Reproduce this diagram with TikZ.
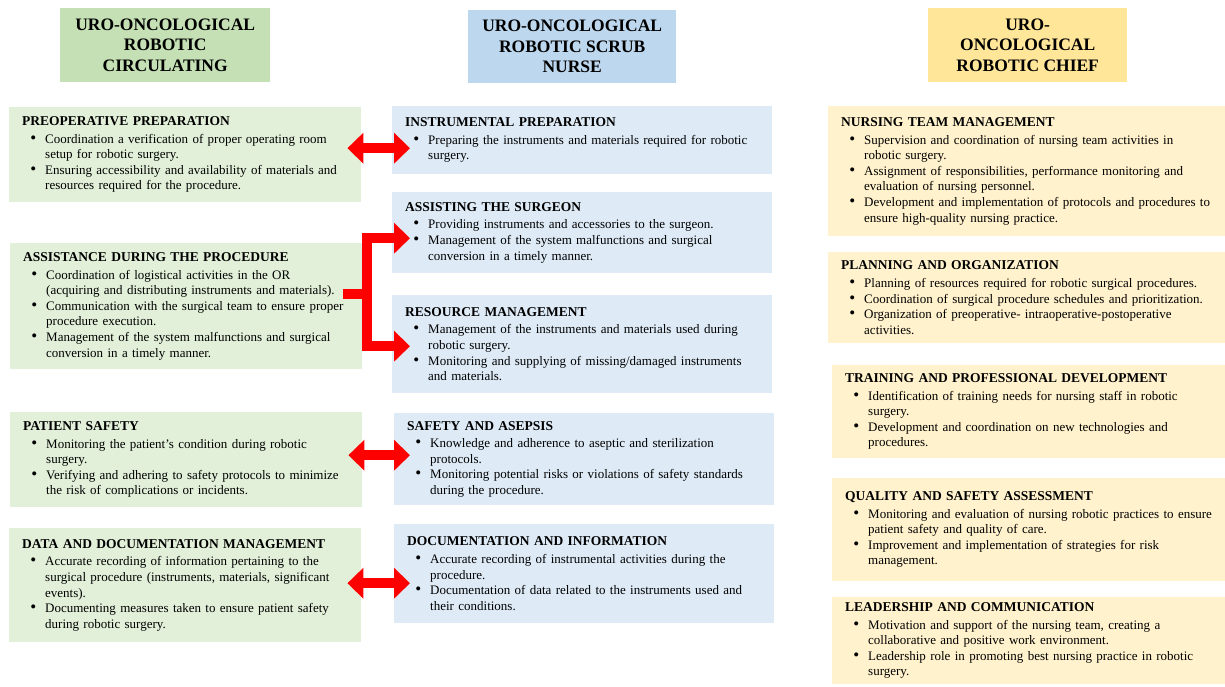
\documentclass[tikz,border=0pt]{standalone}
\usepackage{fontspec}
\setmainfont{Liberation Serif}
\usepackage{enumitem}
\usetikzlibrary{arrows.meta}
\definecolor{titlegreen}{HTML}{C5E0B4}
\definecolor{titleblue}{HTML}{BDD7EE}
\definecolor{titleyellow}{HTML}{FFE699}
\definecolor{lightgreen}{HTML}{E2F0D9}
\definecolor{lightblue}{HTML}{DEEBF7}
\definecolor{lightyellow}{HTML}{FFF2CC}
\setlist[itemize]{nosep, topsep=2pt, leftmargin=23pt, rightmargin=-14pt, labelsep=9pt, label=\scalebox{1.3}{\textbullet}}

\begin{document}
\begin{tikzpicture}[x=1pt, y=-1pt, font=\fontsize{13}{15.6}\selectfont,
        titlebox/.style={anchor=north west, inner sep=0pt, align=center, minimum width=#1, minimum height=74pt, font=\bfseries\fontsize{17.5}{20.5}\selectfont},
        rolebox/.style={anchor=north west, inner xsep=13pt, inner ysep=4pt, align=left},
        greenbox/.style={rolebox, fill=lightgreen, text width=326pt},
        bluebox/.style={rolebox, fill=lightblue, text width=354pt},
        yellowbox/.style={rolebox, fill=lightyellow, text width=#1},
        link/.style={draw=red, line width=10pt, line join=miter, >={Triangle[length=16pt,width=30pt]}}]
    \useasboundingbox (0,0) rectangle (1225,686);

    % column titles
    \node[titlebox=210pt, fill=titlegreen] (circ) at (60,8) {URO-ONCOLOGICAL\\ROBOTIC\\CIRCULATING};
    \node[titlebox=208pt, fill=titleblue, minimum height=73pt] (scrub) at (468,10) {URO-ONCOLOGICAL\\ROBOTIC SCRUB\\NURSE};
    \node[titlebox=199pt, fill=titleyellow] (chief) at (928,8) {URO-\\ONCOLOGICAL\\ROBOTIC CHIEF};

    % circulating nurse
    \node[greenbox, minimum height=95pt] (pre) at (9,107) {\textbf{\fontsize{13.5}{15.6}\selectfont PREOPERATIVE PREPARATION}
        \begin{itemize}
            \item Coordination a verification of proper operating room\newline setup for robotic surgery.
            \item Ensuring accessibility and availability of materials and\newline resources required for the procedure.
        \end{itemize}};
    \node[greenbox, minimum height=126pt] (assist) at (10,243) {\textbf{\fontsize{13.5}{15.6}\selectfont ASSISTANCE DURING THE PROCEDURE}
        \begin{itemize}
            \item Coordination of logistical activities in the OR\newline (acquiring and distributing instruments and materials).
            \item Communication with the surgical team to ensure proper\newline procedure execution.
            \item Management of the system malfunctions and surgical\newline conversion in a timely manner.
        \end{itemize}};
    \node[greenbox, minimum height=95pt] (psafe) at (10,412) {\textbf{\fontsize{13.5}{15.6}\selectfont PATIENT SAFETY}
        \begin{itemize}
            \item Monitoring the patient’s condition during robotic\newline surgery.
            \item Verifying and adhering to safety protocols to minimize\newline the risk of complications or incidents.
        \end{itemize}};
    \node[greenbox, minimum height=114pt] (data) at (9,528) {\textbf{\fontsize{13.5}{15.6}\selectfont DATA AND DOCUMENTATION MANAGEMENT}
        \begin{itemize}
            \item Accurate recording of information pertaining to the\newline surgical procedure (instruments, materials, significant\newline events).
            \item Documenting measures taken to ensure patient safety\newline during robotic surgery.
        \end{itemize}};

    % scrub nurse
    \node[bluebox, minimum height=68pt] (instr) at (392,106) {\textbf{\fontsize{13.5}{15.6}\selectfont INSTRUMENTAL PREPARATION}
        \begin{itemize}
            \item Preparing the instruments and materials required for robotic\newline surgery.
        \end{itemize}};
    \node[bluebox, minimum height=81pt] (surgeon) at (392,192) {\textbf{\fontsize{13.5}{15.6}\selectfont ASSISTING THE SURGEON}
        \begin{itemize}
            \item Providing instruments and accessories to the surgeon.
            \item Management of the system malfunctions and surgical\newline conversion in a timely manner.
        \end{itemize}};
    \node[bluebox, minimum height=98pt] (resource) at (392,295) {\textbf{\fontsize{13.5}{15.6}\selectfont RESOURCE MANAGEMENT}
        \begin{itemize}
            \item Management of the instruments and materials used during\newline robotic surgery.
            \item Monitoring and supplying of missing/damaged instruments\newline and materials.
        \end{itemize}};
    \node[bluebox, minimum height=92pt] (asepsis) at (394,413) {\textbf{\fontsize{13.5}{15.6}\selectfont SAFETY AND ASEPSIS}
        \begin{itemize}
            \item Knowledge and adherence to aseptic and sterilization\newline protocols.
            \item Monitoring potential risks or violations of safety standards\newline during the procedure.
        \end{itemize}};
    \node[bluebox, minimum height=99pt] (docu) at (394,524) {\textbf{\fontsize{13.5}{15.6}\selectfont DOCUMENTATION AND INFORMATION}
        \begin{itemize}
            \item Accurate recording of instrumental activities during the\newline procedure.
            \item Documentation of data related to the instruments used and\newline their conditions.
        \end{itemize}};

    % chief nurse
    \node[yellowbox=371pt, minimum height=130pt] (nursing) at (828,106) {\textbf{\fontsize{13.5}{15.6}\selectfont NURSING TEAM MANAGEMENT}
        \begin{itemize}
            \item Supervision and coordination of nursing team activities in\newline robotic surgery.
            \item Assignment of responsibilities, performance monitoring and\newline evaluation of nursing personnel.
            \item Development and implementation of protocols and procedures to\newline ensure high-quality nursing practice.
        \end{itemize}};
    \node[yellowbox=371pt, minimum height=91pt] (planning) at (828,252) {\textbf{\fontsize{13.5}{15.6}\selectfont PLANNING AND ORGANIZATION}
        \begin{itemize}
            \item Planning of resources required for robotic surgical procedures.
            \item Coordination of surgical procedure schedules and prioritization.
            \item Organization of preoperative- intraoperative-postoperative\newline activities.
        \end{itemize}};
    \node[yellowbox=367pt, minimum height=93pt] (training) at (832,365) {\textbf{\fontsize{13.5}{15.6}\selectfont TRAINING AND PROFESSIONAL DEVELOPMENT}
        \begin{itemize}
            \item Identification of training needs for nursing staff in robotic\newline surgery.
            \item Development and coordination on new technologies and\newline procedures.
        \end{itemize}};
    \node[yellowbox=367pt, minimum height=103pt] (quality) at (832,478) {\textbf{\fontsize{13.5}{15.6}\selectfont QUALITY AND SAFETY ASSESSMENT}
        \begin{itemize}
            \item Monitoring and evaluation of nursing robotic practices to ensure\newline patient safety and quality of care.
            \item Improvement and implementation of strategies for risk\newline management.
        \end{itemize}};
    \node[yellowbox=367pt, minimum height=87pt] (leader) at (832,597) {\textbf{\fontsize{13.5}{15.6}\selectfont LEADERSHIP AND COMMUNICATION}
        \begin{itemize}
            \item Motivation and support of the nursing team, creating a\newline collaborative and positive work environment.
            \item Leadership role in promoting best nursing practice in robotic\newline surgery.
        \end{itemize}};

    % red arrows
    \draw[link, <->, shorten <=-14pt, shorten >=-18pt] ([yshift=6.5pt]pre.east) -- ([yshift=-8pt]instr.west);
    \coordinate (fork) at (367,294);
    \draw[link, shorten <=-5pt, shorten >=-19pt] (fork) -- (assist.east |- fork);
    \draw[link, ->, shorten >=-18pt] (fork) |- ([yshift=-5.5pt]surgeon.west);
    \draw[link, ->, shorten >=-18pt] (fork) |- ([yshift=-2pt]resource.west);
    \draw[link, <->, shorten <=-14pt, shorten >=-16pt] ([yshift=4.5pt]psafe.east) -- ([yshift=4pt]asepsis.west);
    \draw[link, <->, shorten <=-14pt, shorten >=-16pt] ([yshift=2pt]data.east) -- ([yshift=-9.5pt]docu.west);
\end{tikzpicture}
\end{document}
